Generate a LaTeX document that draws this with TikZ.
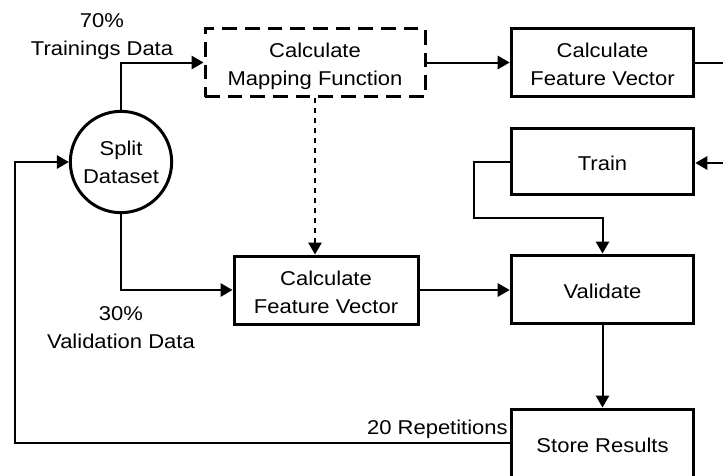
\documentclass[tikz,border=0pt]{standalone}
\usepackage{fontspec}
\setmainfont{Liberation Sans}[FakeStretch=1.1]
\usetikzlibrary{arrows.meta}
\begin{document}
\begin{tikzpicture}[x=0.75pt,y=-0.75pt,
  every node/.style={font=\fontsize{15}{21}\selectfont},
  blk/.style={draw, line width=2.25pt, minimum width=137pt, minimum height=51pt, align=center, inner sep=0pt},
  two/.style={text height=35pt, text depth=0pt},
  one/.style={text height=14pt, text depth=0pt},
  conn/.style={line width=1.5pt, -{Triangle[length=9pt,width=10pt]}},
  plain/.style={line width=1.5pt},
  lbl/.style={align=center, inner sep=0pt}]
\useasboundingbox (0,0) rectangle (723,475);
% nodes
\node[draw, circle, line width=2.25pt, minimum size=76pt, inner sep=0pt, align=center] (split) at (121,162) {Split\\Dataset};
\node[blk, two, minimum width=165pt, dash pattern=on 11pt off 6pt] (map) at (315,62.5) {Calculate\\Mapping Function};
\node[blk, two] (cfv1) at (602.5,62.5) {Calculate\\Feature Vector};
\node[blk, one, minimum height=50pt] (train) at (602.5,161.5) {Train};
\node[blk, two, minimum width=138pt] (cfv2) at (326,290) {Calculate\\Feature Vector};
\node[blk, one] (val) at (602.5,289) {Validate};
\node[blk, one] (store) at (602.5,443) {Store Results};
% labels
\node[lbl] (l70) at (102,37) {70\%\\Trainings Data};
\node[lbl] (l30) at (121,328) {30\%\\Validation Data};
\node[lbl, anchor=east] (lrep) at (508,429) {20 Repetitions};
% free ends
\coordinate (offA) at (740,62.5);
\coordinate (offB) at (740,163);
\coordinate (bendT) at (474,218);
% connectors
\draw[conn] (split.north) |- (map.west);
\draw[conn] (split.south) |- (cfv2.west);
\draw[conn, dash pattern=on 4pt off 3.5pt] (map.south) -- (map.south |- cfv2.north);
\draw[conn] (map.east) -- (cfv1.west);
\draw[plain] (cfv1.east) -- (offA);
\draw[conn] (offB) -- (train.east |- offB);
\draw[conn] (train.west) -| (bendT) -| (val.north);
\draw[conn] (cfv2.east) -- (cfv2.east -| val.west);
\draw[conn] (val.south) -- (store.north);
\draw[conn] (store.west) -| (15,162) -- (split.west);
\end{tikzpicture}
\end{document}
